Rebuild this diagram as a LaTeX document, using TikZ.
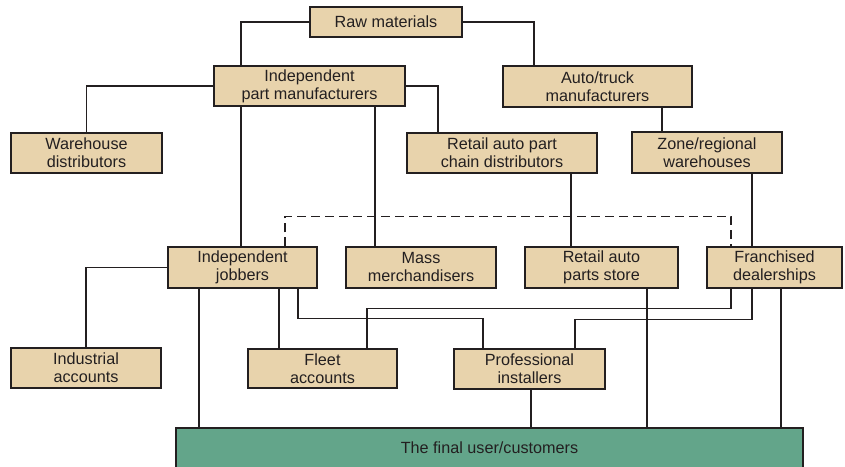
\documentclass[tikz,border=0pt]{standalone}
\usepackage{fontspec}
\setmainfont{Liberation Sans}
\definecolor{boxfill}{RGB}{232,211,172}
\definecolor{finalfill}{RGB}{99,165,138}
\definecolor{ink}{RGB}{35,31,32}
\begin{document}
\begin{tikzpicture}[x=1pt,y=-1pt,
  box/.style={draw=ink, line width=1.2pt, fill=boxfill, align=center, inner sep=0pt,
    font=\fontsize{16.2}{18}\selectfont, text=ink},
  finalbox/.style={draw=ink, line width=1.2pt, fill=finalfill, align=center, inner sep=0pt,
    font=\fontsize{16.2}{18}\selectfont, text=ink, text height=12pt, text depth=8pt},
  link/.style={draw=ink, line width=1.6pt},
  dlink/.style={draw=ink, line width=1.6pt, dash pattern=on 9pt off 5pt}]
\useasboundingbox (0,0) rectangle (845,466);
\begin{scope}
\clip (0,0) rectangle (845,466);
% connectors first (under boxes)
\node[box, minimum width=152, minimum height=30] (raw) at (386,22) {Raw materials};
\node[box, minimum width=191, minimum height=40] (ipm) at (309.5,86) {Independent\\part manufacturers};
\node[box, minimum width=189, minimum height=41] (auto) at (597.5,86.5) {Auto/truck\\manufacturers};
\node[box, minimum width=151, minimum height=40] (wd) at (86.5,153) {Warehouse\\distributors};
\node[box, minimum width=190, minimum height=40] (rac) at (502,153) {Retail auto part\\chain distributors};
\node[box, minimum width=150, minimum height=41] (zone) at (707,152.5) {Zone/regional\\warehouses};
\node[box, minimum width=149, minimum height=41] (ij) at (242.5,267.5) {Independent\\jobbers};
\node[box, minimum width=150, minimum height=41] (mm) at (421,267.5) {Mass\\merchandisers};
\node[box, minimum width=153, minimum height=41] (raps) at (601.5,267.5) {Retail auto\\parts store};
\node[box, minimum width=135, minimum height=41] (fd) at (774.5,267.5) {Franchised\\dealerships};
\node[box, minimum width=150, minimum height=40] (ia) at (86,368) {Industrial\\accounts};
\node[box, minimum width=149, minimum height=39] (fa) at (322.5,368.5) {Fleet\\accounts};
\node[box, minimum width=151, minimum height=40] (pi) at (529.5,369) {Professional\\installers};
\node[finalbox, minimum width=627, minimum height=46] (final) at (489.5,451) {The final user/customers};
% connectors
\draw[link] (raw.west) -| ([xshift=-68.5]ipm.north);
\draw[link] (raw.east) -| ([xshift=-63.5]auto.north);
\draw[link] (ipm.west) -| (wd.north);
\draw[link] (ipm.east) -| ([xshift=-64]rac.north);
\draw[link] ([xshift=64.5]auto.south) -- ([xshift=64.5]auto.south |- zone.north);
\draw[link] ([xshift=-68.5]ipm.south) -- ([xshift=-68.5]ipm.south |- ij.north);
\draw[link] ([xshift=65.5]ipm.south) -- ([xshift=65.5]ipm.south |- mm.north);
\draw[link] ([xshift=69]rac.south) -- ([xshift=69]rac.south |- raps.north);
\draw[link] ([xshift=45]zone.south) -- ([xshift=45]zone.south |- fd.north);
\draw[dlink] ([xshift=42.5]ij.north) -- ++(0,-30) -| ([xshift=-43.5]fd.north);
\draw[link] (ij.west) -| (ia.north);
\draw[link] ([xshift=-43.5]ij.south) -- ([xshift=-43.5]ij.south |- final.north);
\draw[link] ([xshift=36.5]ij.south) -- ([xshift=36.5]ij.south |- fa.north);
\draw[link] ([xshift=55.5]ij.south) -- ++(0,30) -| ([xshift=-46.5]pi.north);
\draw[link] ([xshift=-43.5]fd.south) -- ++(0,20) -| ([xshift=44.5]fa.north);
\draw[link] ([xshift=-22.5]fd.south) -- ++(0,31) -| ([xshift=45.5]pi.north);
\draw[link] ([xshift=6.5]fd.south) -- ([xshift=6.5]fd.south |- final.north);
\draw[link] ([xshift=45.5]raps.south) -- ([xshift=45.5]raps.south |- final.north);
\draw[link] ([xshift=1.5]pi.south) -- ([xshift=1.5]pi.south |- final.north);
\end{scope}
\end{tikzpicture}
\end{document}
